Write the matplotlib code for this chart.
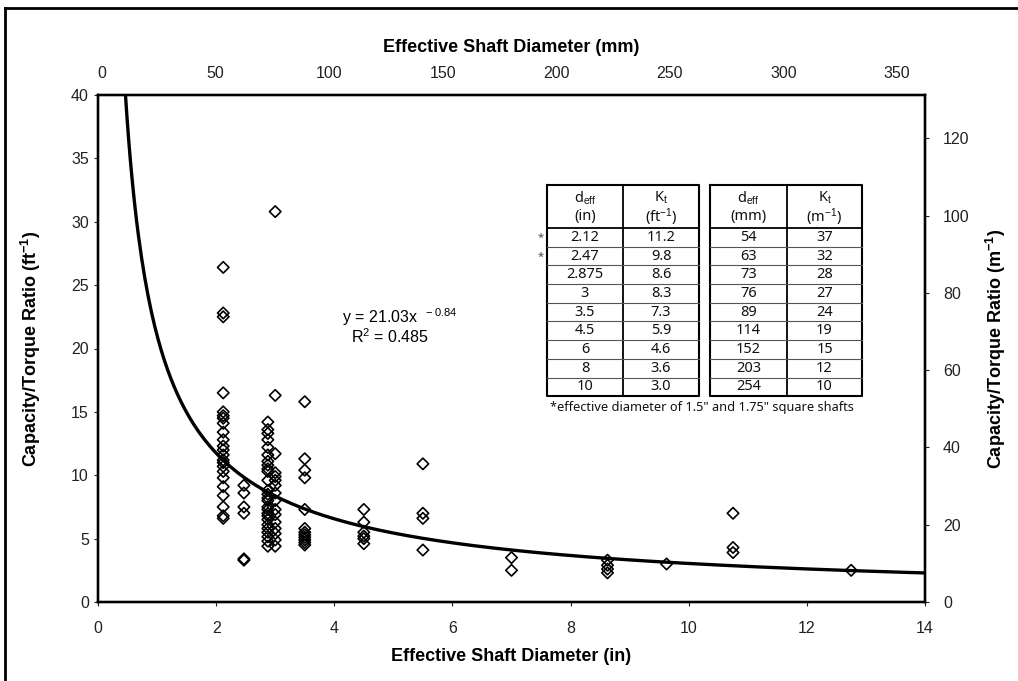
import matplotlib
matplotlib.use("Agg")
import matplotlib.pyplot as plt
import numpy as np

plt.rcParams['font.family'] = ['Liberation Sans Narrow', 'Liberation Sans', 'DejaVu Sans']
plt.rcParams['mathtext.fontset'] = 'custom'
plt.rcParams['mathtext.rm'] = 'Liberation Sans'
plt.rcParams['mathtext.it'] = 'Liberation Sans:italic'
plt.rcParams['mathtext.bf'] = 'Liberation Sans:bold'

# measured capacity/torque ratios (ft^-1) grouped by effective shaft diameter (in)
d_212 = [26.4, 22.8, 22.5, 16.5, 15.0, 14.7, 14.5, 14.1, 13.4, 12.8, 12.3, 12.0,
         11.6, 11.2, 11.0, 10.7, 10.3, 9.8, 9.1, 8.4, 7.5, 6.8, 6.6]
d_247 = [9.2, 8.6, 7.5, 7.0, 3.4, 3.3]
d_2875 = [14.2, 13.6, 13.3, 12.8, 12.2, 11.6, 11.1, 10.8, 10.5, 10.3, 9.6, 8.8, 8.5,
          8.2, 8.0, 7.5, 7.3, 7.0, 6.8, 6.5, 6.1, 5.8, 5.5, 5.15, 4.8, 4.4]
d_3 = [30.8, 16.3, 11.7, 10.2, 9.9, 9.6, 9.2, 8.6, 8.0, 7.3, 6.9, 6.3, 5.8, 5.4, 4.9, 4.4]
d_35 = [15.8, 11.3, 10.4, 9.8, 7.3, 5.8, 5.5, 5.3, 5.1, 4.9, 4.7, 4.5]
d_45 = [7.3, 6.3, 5.5, 5.2, 5.0, 4.6]
d_55 = [10.9, 7.0, 6.6, 4.1]
d_7 = [3.5, 2.5]
d_8625 = [3.3, 2.9, 2.6, 2.3]
d_9625 = [3.0]
d_1075 = [7.0, 4.3, 3.9]
d_1275 = [2.5]

diameters = [2.12, 2.47, 2.875, 3.0, 3.5, 4.5, 5.5, 7.0, 8.625, 9.625, 10.75, 12.75]
groups = [d_212, d_247, d_2875, d_3, d_35, d_45, d_55, d_7, d_8625, d_9625, d_1075, d_1275]

# power-law fit
fit_a = 21.03
fit_b = -0.84
fit_r2 = 0.485

# Kt table
tbl_d_in = ['2.12', '2.47', '2.875', '3', '3.5', '4.5', '6', '8', '10']
tbl_kt_ft = ['11.2', '9.8', '8.6', '8.3', '7.3', '5.9', '4.6', '3.6', '3.0']
tbl_d_mm = ['54', '63', '73', '76', '89', '114', '152', '203', '254']
tbl_kt_m = ['37', '32', '28', '27', '24', '19', '15', '12', '10']
starred = [True, True, False, False, False, False, False, False, False]

FT_TO_M = 3.2808

fig = plt.figure(figsize=(10.18, 6.81), dpi=100)
ax = fig.add_axes([98 / 1018, 1 - 602 / 681, 827 / 1018, 507 / 681])

xs = np.concatenate([[d] * len(g) for d, g in zip(diameters, groups)])
ys = np.concatenate(groups)
ax.scatter(xs, ys, marker='D', s=34, facecolors='none', edgecolors='black',
           linewidths=1.2, zorder=3)

xc = np.linspace(0.3, 14, 500)
ax.plot(xc, fit_a * xc ** fit_b, color='black', lw=2.4, zorder=2)

ax.set_xlim(0, 14)
ax.set_ylim(0, 40)
ax.set_xticks(np.arange(0, 15, 2))
ax.set_yticks(np.arange(0, 41, 5))
ax.tick_params(axis='both', labelsize=11.5, colors='#222222', length=3, width=0.8)
ax.tick_params(axis='x', pad=11)
for s in ax.spines.values():
    s.set_linewidth(1.6)
ax.set_xlabel('Effective Shaft Diameter (in)', fontsize=13, fontweight='bold', labelpad=8)
ax.set_ylabel(r'Capacity/Torque Ratio (ft$^{\mathbf{-1}}$)', fontsize=13,
              fontweight='bold', labelpad=20)

# metric axes
ax_top = ax.twiny()
ax_top.set_xlim(-1.8, 362.4)
ax_top.set_xticks(np.arange(0, 351, 50))
ax_top.tick_params(axis='x', labelsize=11.5, colors='#222222', length=0, pad=10)
ax_top.set_xlabel('Effective Shaft Diameter (mm)', fontsize=13, fontweight='bold', labelpad=10)

ax_r = ax.twinx()
ax_r.set_ylim(0, 40 * FT_TO_M)
ax_r.set_yticks(np.arange(0, 121, 20))
ax_r.tick_params(axis='y', labelsize=11.5, colors='#222222', length=3, width=0.8, pad=10)
ax_r.set_ylabel(r'Capacity/Torque Ratio (m$^{\mathbf{-1}}$)', fontsize=13,
                fontweight='bold', labelpad=10)
for a in (ax_top, ax_r):
    for s in a.spines.values():
        s.set_linewidth(1.6)

ax.text(4.13, 22.0, r'y = %.2fx $^{\ %.2f}$' % (fit_a, fit_b), fontsize=11.5,
        family='Liberation Sans')
ax.text(4.28, 20.4, r'R$^{2}$ = %.3f' % fit_r2, fontsize=11.5, family='Liberation Sans')

# table drawn in its own pixel-coordinate axes
tax = fig.add_axes([530 / 1018, 1 - 415 / 681, 350 / 1018, 235 / 681])
tax.set_xlim(530, 880)
tax.set_ylim(415, 180)
tax.axis('off')

top, head_bot, pitch = 185, 228, 18.7
n = len(tbl_d_in)
bot = head_bot + n * pitch
tables = [((547, 623, 699), tbl_d_in, tbl_kt_ft,
           ('d$_{\\mathrm{eff}}$', '(in)'), ('K$_{\\mathrm{t}}$', '(ft$^{-1}$)')),
          ((710, 787, 862), tbl_d_mm, tbl_kt_m,
           ('d$_{\\mathrm{eff}}$', '(mm)'), ('K$_{\\mathrm{t}}$', '(m$^{-1}$)'))]
tf = dict(fontsize=10.5, family='Noto Sans', ha='center', va='center', color='#111111')
for (x0, x1, x2), c1, c2, h1, h2 in tables:
    tax.plot([x0, x2, x2, x0, x0], [top, top, bot, bot, top], color='black', lw=1.5)
    tax.plot([x1, x1], [top, bot], color='black', lw=1.3)
    tax.plot([x0, x2], [head_bot, head_bot], color='black', lw=1.3)
    for i in range(1, n):
        yy = head_bot + i * pitch
        tax.plot([x0, x2], [yy, yy], color='#555555', lw=0.8)
    for j, (h, xm) in enumerate([(h1, (x0 + x1) / 2), (h2, (x1 + x2) / 2)]):
        tax.text(xm, 198, h[0], **tf)
        tax.text(xm, 217, h[1], **tf)
    for i in range(n):
        yy = head_bot + (i + 0.5) * pitch
        tax.text((x0 + x1) / 2, yy, c1[i], **tf)
        tax.text((x1 + x2) / 2, yy, c2[i], **tf)
for i in range(n):
    if starred[i]:
        tax.text(541, head_bot + (i + 0.5) * pitch, '*', fontsize=8,
                 family='Noto Sans', ha='center', va='center', color='#444444')
tax.text(550, 407, '*effective diameter of 1.5" and 1.75" square shafts',
         fontsize=9.2, family='Noto Sans', ha='left', va='center', color='#111111')

# scan frame on left and top edges
fig.add_artist(plt.Line2D([5 / 1018, 5 / 1018], [0, 1 - 8 / 681],
                          transform=fig.transFigure, color='black', lw=2))
fig.add_artist(plt.Line2D([5 / 1018, 1], [1 - 8 / 681, 1 - 8 / 681],
                          transform=fig.transFigure, color='black', lw=2))

fig.savefig('out.png', dpi=100)
